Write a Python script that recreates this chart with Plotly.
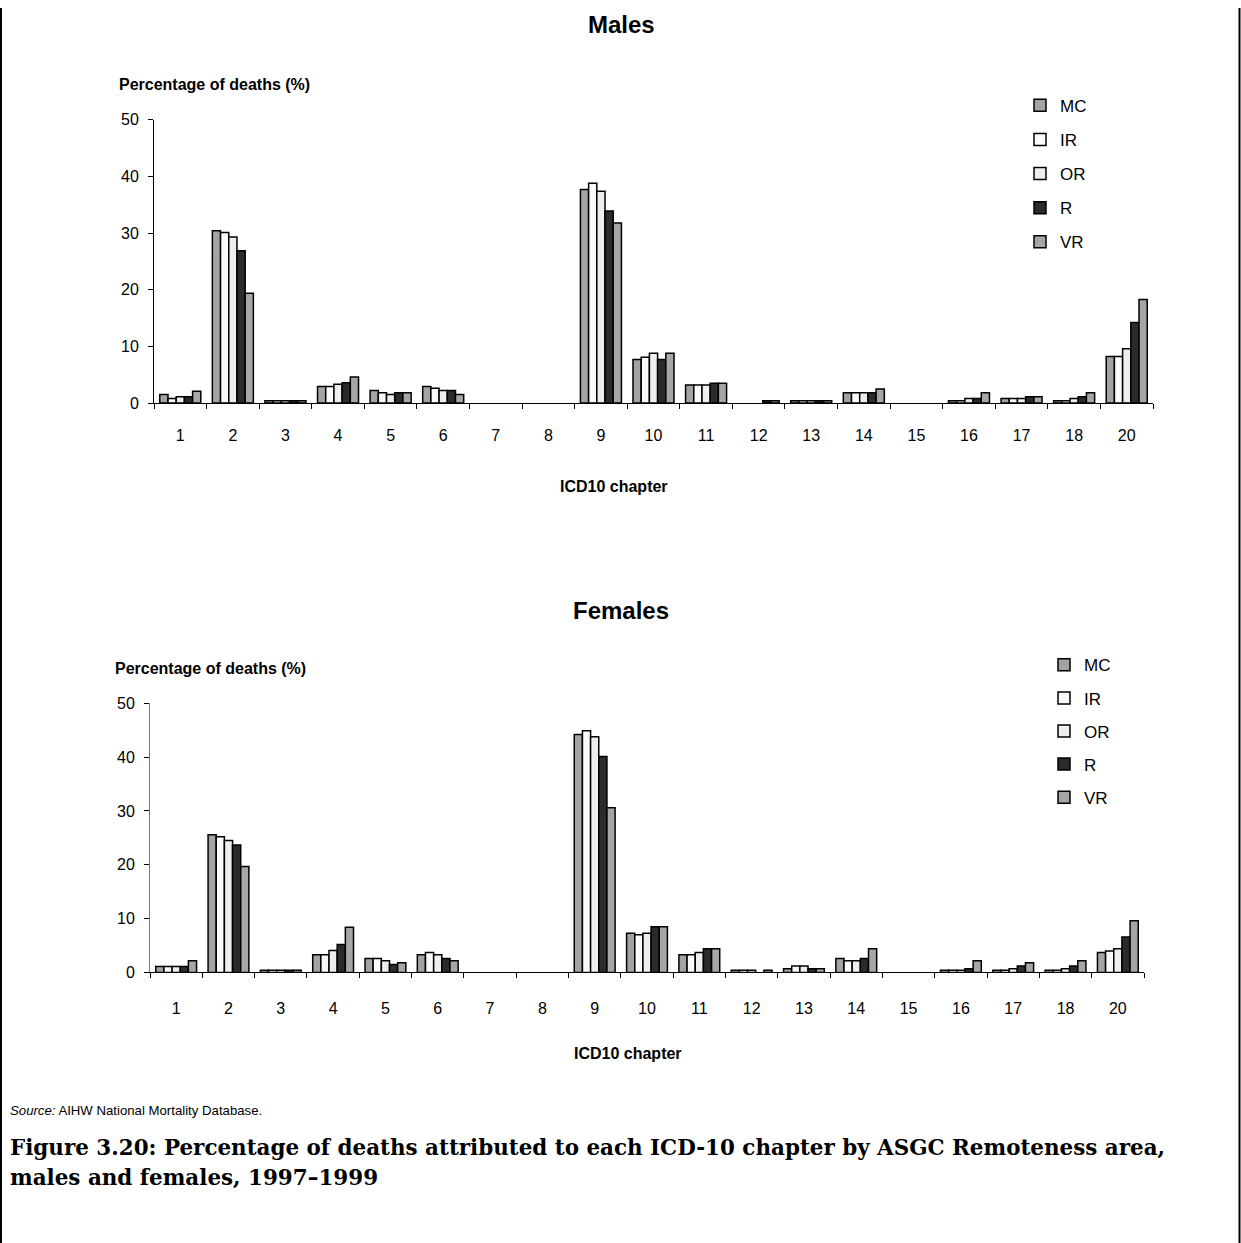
import plotly.graph_objects as go

W, H = 1241, 1253
# measured page->screenshot vertical mapping: screen_y = 8.24 + 0.9857 * figure_y
V_OFF, V_SCALE = 8.24, 0.9857

chapters = ["1", "2", "3", "4", "5", "6", "7", "8", "9", "10", "11", "12", "13", "14", "15", "16", "17", "18", "20"]
series_names = ["MC", "IR", "OR", "R", "VR"]

males_MC = [1.5, 30.4, 0.4, 2.9, 2.2, 2.9, None, None, 37.7, 7.7, 3.2, None, 0.4, 1.8, None, 0.4, 0.8, 0.4, 8.2]
males_IR = [0.8, 30.1, 0.4, 2.9, 1.8, 2.6, None, None, 38.8, 8.1, 3.2, None, 0.4, 1.8, None, 0.4, 0.8, 0.4, 8.2]
males_OR = [1.1, 29.3, 0.4, 3.3, 1.5, 2.2, None, None, 37.4, 8.8, 3.2, None, 0.4, 1.8, None, 0.8, 0.8, 0.8, 9.6]
males_R = [1.1, 26.9, 0.4, 3.6, 1.8, 2.2, None, None, 33.9, 7.7, 3.5, 0.4, 0.4, 1.8, None, 0.8, 1.1, 1.1, 14.2]
males_VR = [2.1, 19.4, 0.4, 4.6, 1.8, 1.5, None, None, 31.8, 8.8, 3.5, 0.4, 0.4, 2.5, None, 1.8, 1.1, 1.8, 18.3]

females_MC = [1.1, 25.6, 0.4, 3.3, 2.6, 3.3, None, None, 44.2, 7.3, 3.3, 0.4, 0.7, 2.6, None, 0.4, 0.4, 0.4, 3.7]
females_IR = [1.1, 25.2, 0.4, 3.3, 2.6, 3.7, None, None, 44.9, 7.0, 3.3, 0.4, 1.2, 2.2, None, 0.4, 0.4, 0.4, 4.0]
females_OR = [1.1, 24.5, 0.4, 4.1, 2.2, 3.3, None, None, 43.8, 7.3, 3.7, 0.4, 1.2, 2.2, None, 0.4, 0.7, 0.7, 4.4]
females_R = [1.1, 23.7, 0.4, 5.2, 1.5, 2.6, None, None, 40.1, 8.5, 4.4, None, 0.7, 2.6, None, 0.7, 1.2, 1.2, 6.6]
females_VR = [2.2, 19.7, 0.4, 8.4, 1.8, 2.2, None, None, 30.6, 8.5, 4.4, 0.4, 0.7, 4.4, None, 2.2, 1.8, 2.2, 9.6]

males = [males_MC, males_IR, males_OR, males_R, males_VR]
females = [females_MC, females_IR, females_OR, females_R, females_VR]

colors = ["#a3a3a3", "#fafafa", "#eeeeee", "#2b2b2b", "#a6a6a6"]


def px(x):
    return x / W


def py(y):
    return 1 - ((y - V_OFF) / V_SCALE) / H


fig = go.Figure()

for name, vals, col in zip(series_names, males, colors):
    fig.add_trace(go.Bar(
        x=chapters, y=vals, name=name, marker=dict(color=col, line=dict(color="#000000", width=1.5)),
        xaxis="x", yaxis="y", legend="legend", legendgroup="m_" + name,
    ))

for name, vals, col in zip(series_names, females, colors):
    fig.add_trace(go.Bar(
        x=chapters, y=vals, name=name, marker=dict(color=col, line=dict(color="#000000", width=1.5)),
        xaxis="x2", yaxis="y2", legend="legend2", legendgroup="f_" + name,
    ))

font = "Arial, Liberation Sans, sans-serif"

xcommon = dict(
    type="category", tickson="boundaries", ticks="outside", ticklen=5, tickwidth=1,
    tickcolor="#000000", showline=True, linecolor="#000000", linewidth=1,
    showgrid=False, zeroline=False, tickfont=dict(family=font, size=16, color="#000000"),
    fixedrange=True,
)
ycommon = dict(
    range=[0, 50], tickvals=[0, 10, 20, 30, 40, 50], ticks="outside", ticklen=5, tickwidth=1,
    tickcolor="#000000", showline=True, linewidth=1,
    showgrid=False, zeroline=False, tickfont=dict(family=font, size=16, color="#000000"),
    ticklabelstandoff=6, fixedrange=True,
)

fig.update_layout(
    width=W, height=H,
    margin=dict(l=0, r=0, t=0, b=0),
    paper_bgcolor="#ffffff", plot_bgcolor="#ffffff",
    barmode="group", bargap=0.22, bargroupgap=0,
    showlegend=True,
    xaxis=dict(domain=[px(154), px(1153)], anchor="y", ticklabelstandoff=18, **xcommon),
    yaxis=dict(domain=[py(403), py(120)], anchor="x", linecolor="#000000", **ycommon),
    xaxis2=dict(domain=[px(150), px(1144)], anchor="y2", ticklabelstandoff=21, **xcommon),
    yaxis2=dict(domain=[py(972), py(703)], anchor="x2", linecolor="#777777", **ycommon),
    legend=dict(x=px(1020), y=py(88), xanchor="left", yanchor="top", bgcolor="rgba(0,0,0,0)",
                font=dict(family=font, size=17, color="#000000"), tracegroupgap=9, itemwidth=30),
    legend2=dict(x=px(1044), y=py(647), xanchor="left", yanchor="top", bgcolor="rgba(0,0,0,0)",
                 font=dict(family=font, size=17, color="#000000"), tracegroupgap=8, itemwidth=30),
)

annots = [
    dict(text="<b>Males</b>", x=px(621), y=py(25), size=24, xanchor="center"),
    dict(text="<b>Percentage of deaths (%)</b>", x=px(117), y=py(85), size=16, xanchor="left"),
    dict(text="<b>ICD10 chapter</b>", x=px(614), y=py(486), size=16, xanchor="center"),
    dict(text="<b>Females</b>", x=px(621), y=py(610), size=24, xanchor="center"),
    dict(text="<b>Percentage of deaths (%)</b>", x=px(113), y=py(668), size=16, xanchor="left"),
    dict(text="<b>ICD10 chapter</b>", x=px(628), y=py(1053), size=16, xanchor="center"),
    dict(text="<i>Source:</i> AIHW National Mortality Database.", x=px(8), y=py(1110), size=13.2, xanchor="left"),
]
for a in annots:
    fig.add_annotation(text=a["text"], x=a["x"], y=a["y"], xref="paper", yref="paper",
                       xanchor=a["xanchor"], yanchor="middle", showarrow=False,
                       font=dict(family=font, size=a["size"], color="#000000"))

serif = "DejaVu Serif, Liberation Serif, serif"
fig.add_annotation(text="<b>Figure 3.20: Percentage of deaths attributed to each ICD-10 chapter by ASGC Remoteness area,</b>",
                   x=px(8), y=py(1147), xref="paper", yref="paper", xanchor="left", yanchor="middle",
                   showarrow=False, font=dict(family=serif, size=21.45, color="#000000"))
fig.add_annotation(text="<b>males and females, 1997–1999</b>",
                   x=px(8), y=py(1177), xref="paper", yref="paper", xanchor="left", yanchor="middle",
                   showarrow=False, font=dict(family=serif, size=21.45, color="#000000"))

# frame (left and right edges)
for x0 in [1, W - 1.5]:
    fig.add_shape(type="line", x0=px(x0), y0=0, x1=px(x0), y1=1, xref="paper", yref="paper",
                  line=dict(color="#000000", width=2))

fig.write_html("out.html")
